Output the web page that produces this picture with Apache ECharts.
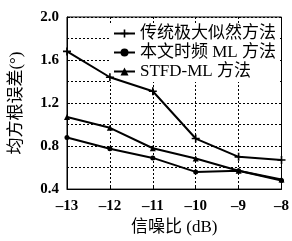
<!DOCTYPE html>
<html>
<head>
<meta charset="utf-8">
<script src="https://cdn.jsdelivr.net/npm/echarts@6/dist/echarts.min.js"></script>
<style>
  html, body { margin: 0; padding: 0; background: #fff; }
  #chart { width: 292px; height: 241px; }
</style>
</head>
<body>
<div id="chart"></div>
<script>
  // 信噪比 (dB)
  const snr = ['-13', '-12', '-11', '-10', '-9', '-8'];
  // 均方根误差 (°)
  const traditionalML = [1.68, 1.44, 1.31, 0.87, 0.70, 0.67];
  const stfdML = [1.07, 0.97, 0.78, 0.685, 0.57, 0.49];
  const proposedML = [0.88, 0.775, 0.69, 0.56, 0.57, 0.48];
  const seriesNames = ['传统极大似然方法', '本文时频 ML 方法', 'STFD-ML 方法'];

  const serif = '"Liberation Serif", "Noto Sans CJK SC", serif';
  const cjk = '"Liberation Serif", "Noto Sans CJK SC", sans-serif';
  const plusPath = 'path://M4,0 L6,0 L6,4 L10,4 L10,6 L6,6 L6,10 L4,10 L4,6 L0,6 L0,4 L4,4 Z';

  const myChart = echarts.init(document.getElementById('chart'));

  const mkSeries = (name, data, symbol, size) => ({
    name: name,
    type: 'line',
    data: data,
    symbol: symbol,
    symbolSize: size,
    z: 5,
    itemStyle: { color: '#000' },
    lineStyle: { color: '#000', width: 2 },
    animation: false
  });

  const options = {
    animation: false,
    backgroundColor: '#fff',
    grid: {
      left: 65,
      right: 6,
      top: 17,
      bottom: 51,
      show: true,
      borderColor: '#000',
      borderWidth: 1
    },
    legend: {
      orient: 'vertical',
      left: 110,
      top: 23,
      itemGap: 0,
      itemWidth: 21,
      itemHeight: 10,
      padding: [1, 4, 1, 3],
      backgroundColor: '#fff',
      z: 3,
      textStyle: { fontFamily: cjk, fontSize: 17, lineHeight: 19, color: '#000' },
      data: seriesNames
    },
    xAxis: {
      type: 'category',
      data: snr,
      boundaryGap: false,
      name: '信噪比 (dB)',
      nameLocation: 'middle',
      nameGap: 29,
      nameTextStyle: { fontFamily: cjk, fontSize: 17, color: '#000' },
      axisLine: { lineStyle: { color: '#000', width: 1 } },
      axisTick: { show: true, inside: true, length: 3, lineStyle: { color: '#000' } },
      axisLabel: {
        color: '#000',
        fontFamily: serif,
        fontWeight: 'bold',
        fontSize: 15,
        margin: 10,
        formatter: v => v.replace('-', '\u2013')
      },
      splitLine: { show: true, lineStyle: { color: '#000', type: [2, 2], width: 1 } }
    },
    yAxis: {
      type: 'value',
      min: 0.4,
      max: 2.0,
      interval: 0.4,
      name: '均方根误差(°)',
      nameLocation: 'middle',
      nameGap: 42,
      nameRotate: 90,
      nameTextStyle: { fontFamily: cjk, fontSize: 17, color: '#000' },
      axisLine: { show: true, lineStyle: { color: '#000', width: 1 } },
      axisTick: { show: true, inside: true, length: 3, lineStyle: { color: '#000' } },
      axisLabel: {
        color: '#000',
        fontFamily: serif,
        fontWeight: 'bold',
        fontSize: 15,
        margin: 8,
        formatter: v => v.toFixed(1)
      },
      splitLine: { show: true, lineStyle: { color: '#000', type: [2, 2], width: 1 } },
      minorTick: { show: true, splitNumber: 2, length: 2, lineStyle: { color: '#000' } },
      minorSplitLine: { show: true, lineStyle: { color: '#000', type: [2, 2], width: 1 } }
    },
    series: [
      mkSeries(seriesNames[0], traditionalML, plusPath, 8),
      mkSeries(seriesNames[1], proposedML, 'circle', 5),
      mkSeries(seriesNames[2], stfdML, 'triangle', 6)
    ]
  };
  myChart.setOption(options);
</script>
</body>
</html>
